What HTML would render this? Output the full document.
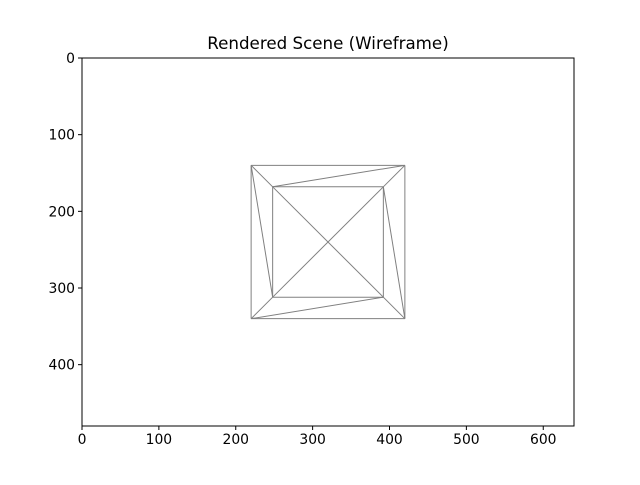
<!DOCTYPE html>
<html><head><meta charset="utf-8"><style>
body{margin:0;background:#fff;font-family:"Liberation Sans","DejaVu Sans",sans-serif}
</style></head><body>
<svg width="640" height="480" xmlns="http://www.w3.org/2000/svg" id="c">
<rect width="640" height="480" fill="#fff"/>
<text x="328" y="49" font-size="16.7" text-anchor="middle" font-family="DejaVu Sans, sans-serif">Rendered Scene (Wireframe)</text>
<g id="marks"></g>
<rect x="82" y="58" width="492" height="368" fill="none" stroke="#000" stroke-width="1"/>
<g id="ticks" font-size="13.9" font-family="DejaVu Sans, sans-serif"></g>
</svg>
<script>
const xTicks=[0,100,200,300,400,500,600];
const yTicks=[0,100,200,300,400];
const vertices=[[220,140],[420,140],[420,340],[220,340],[248,168],[392,168],[392,312],[248,312]];
const edges=[[0,1],[1,2],[2,3],[3,0],[4,5],[5,6],[6,7],[7,4],[0,4],[1,4],[1,5],[5,2],[2,6],[6,3],[3,7],[7,0],[4,6],[5,7]];
const X0=82,X1=574,Y0=58,Y1=426;
const sx=v=>X0+v/640*(X1-X0), sy=v=>Y0+v/480*(Y1-Y0);
const NS="http://www.w3.org/2000/svg";
const m=document.getElementById('marks'), t=document.getElementById('ticks');
edges.forEach(e=>{const a=vertices[e[0]],b=vertices[e[1]];const l=document.createElementNS(NS,'line');
l.setAttribute('x1',sx(a[0]));l.setAttribute('y1',sy(a[1]));l.setAttribute('x2',sx(b[0]));l.setAttribute('y2',sy(b[1]));
l.setAttribute('stroke','#808080');l.setAttribute('stroke-width','1');


m.appendChild(l);});
xTicks.forEach(v=>{const x=sx(v);const l=document.createElementNS(NS,'line');
l.setAttribute('x1',x);l.setAttribute('x2',x);l.setAttribute('y1',Y1);l.setAttribute('y2',Y1+4);l.setAttribute('stroke','#000');


t.appendChild(l);const s=document.createElementNS(NS,'text');s.setAttribute('x',x);s.setAttribute('y',Y1+18);s.setAttribute('text-anchor','middle');s.textContent=v;


t.appendChild(s);});
yTicks.forEach(v=>{const y=sy(v);const l=document.createElementNS(NS,'line');
l.setAttribute('x1',X0-4);l.setAttribute('x2',X0);l.setAttribute('y1',y);l.setAttribute('y2',y);l.setAttribute('stroke','#000');


t.appendChild(l);const s=document.createElementNS(NS,'text');s.setAttribute('x',X0-7);s.setAttribute('y',y+5);s.setAttribute('text-anchor','end');s.textContent=v;


t.appendChild(s);});
</script>
</body></html>
